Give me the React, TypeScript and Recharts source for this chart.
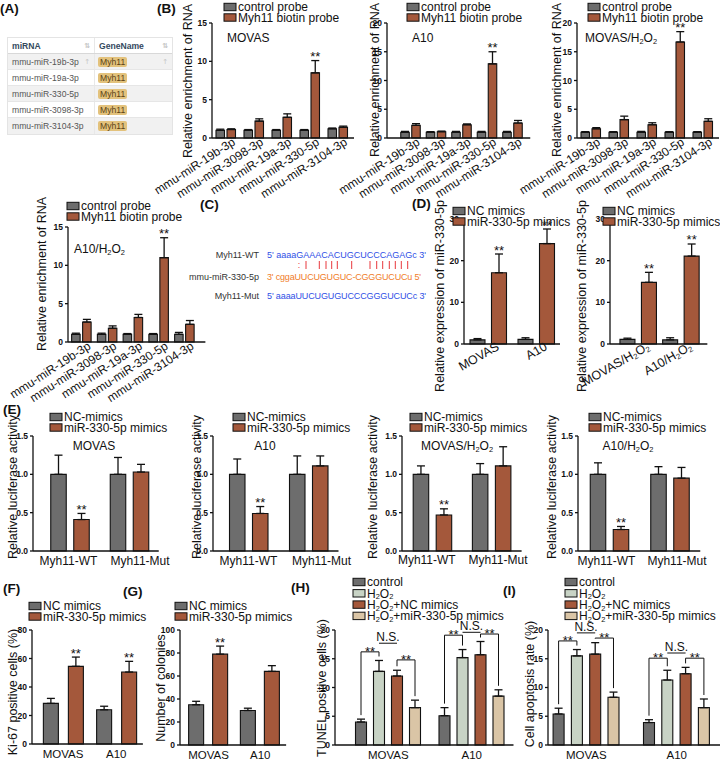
import type { ReactNode } from 'react'
import { Bar, BarChart, ErrorBar, LabelList, XAxis, YAxis } from 'recharts'

const FONT = '"Liberation Sans", Arial, Helvetica, sans-serif'
const GRAY = '#6d6d6d'
const BROWN = '#a4583b'
const SAGE = '#c8d3c5'
const TAN = '#dac5a6'

// (A) prediction table
const tableMirna = ['mmu-miR-19b-3p', 'mmu-miR-19a-3p', 'mmu-miR-330-5p', 'mmu-miR-3098-3p', 'mmu-miR-3104-3p']
const tableGene = ['Myh11', 'Myh11', 'Myh11', 'Myh11', 'Myh11']

// (B) RNA pull-down
const pulldownMirna = ['mmu-miR-19b-3p', 'mmu-miR-3098-3p', 'mmu-miR-19a-3p', 'mmu-miR-330-5p', 'mmu-miR-3104-3p']
const pulldownStars = [false, false, false, true, false]
const movasCtrl = [1.0, 1.0, 1.0, 1.0, 1.2]
const movasCtrlSd = [0.15, 0.1, 0.1, 0.1, 0.1]
const movasProbe = [1.1, 2.2, 2.7, 8.5, 1.4]
const movasProbeSd = [0.1, 0.3, 0.45, 1.6, 0.15]
const a10Ctrl = [1.0, 1.0, 1.0, 1.0, 1.0]
const a10CtrlSd = [0.15, 0.1, 0.15, 0.15, 0.15]
const a10Probe = [2.2, 1.1, 2.3, 12.9, 2.6]
const a10ProbeSd = [0.3, 0.1, 0.15, 2.1, 0.45]
const movasH2o2Ctrl = [1.0, 1.0, 1.0, 1.0, 1.0]
const movasH2o2CtrlSd = [0.1, 0.1, 0.15, 0.1, 0.1]
const movasH2o2Probe = [1.6, 3.2, 2.3, 16.7, 2.9]
const movasH2o2ProbeSd = [0.2, 0.6, 0.35, 1.8, 0.45]
const a10H2o2Ctrl = [1.0, 1.0, 1.0, 1.0, 1.0]
const a10H2o2CtrlSd = [0.15, 0.15, 0.1, 0.1, 0.25]
const a10H2o2Probe = [2.6, 1.8, 3.2, 11.0, 2.3]
const a10H2o2ProbeSd = [0.35, 0.3, 0.4, 2.6, 0.5]

// (C) binding sites
const seqLabels = ['Myh11-WT', 'mmu-miR-330-5p', 'Myh11-Mut']
const seqTexts = ["5' aaaaGAAACACUGCUCCCAGAGc 3'", "3' cggaUUCUGUGUC-CGGGUCUCu 5'", "5' aaaaUUCUGUGUCCCGGGUCUCc 3'"]
const pairMarkX = [306, 319.3, 326, 331.7, 337.3, 351.7, 370, 376.7, 382.7, 389.3, 395.3, 401.3, 407.7]

// (D) mimic transfection
const cellLines = ['MOVAS', 'A10']
const cellLinesH2o2 = ['MOVAS/H2O2', 'A10/H2O2']
const exprNc = [1.0, 1.1]
const exprNcSd = [0.3, 0.4]
const exprMimic = [17.1, 24.1]
const exprMimicSd = [4.5, 3.5]
const exprNcH2o2 = [1.1, 1.0]
const exprNcH2o2Sd = [0.3, 0.5]
const exprMimicH2o2 = [14.8, 21.1]
const exprMimicH2o2Sd = [2.4, 2.9]
const bothStars = [true, true]

// (E) luciferase
const reporters = ['Myh11-WT', 'Myh11-Mut']
const wtStars = [true, false]
const lucMovasNc = [1.0, 1.0]
const lucMovasNcSd = [0.25, 0.22]
const lucMovasMimic = [0.41, 1.03]
const lucMovasMimicSd = [0.08, 0.1]
const lucA10Nc = [1.0, 1.0]
const lucA10NcSd = [0.2, 0.24]
const lucA10Mimic = [0.49, 1.11]
const lucA10MimicSd = [0.09, 0.13]
const lucMovasH2o2Nc = [1.0, 1.0]
const lucMovasH2o2NcSd = [0.11, 0.14]
const lucMovasH2o2Mimic = [0.47, 1.11]
const lucMovasH2o2MimicSd = [0.08, 0.25]
const lucA10H2o2Nc = [1.0, 1.0]
const lucA10H2o2NcSd = [0.15, 0.1]
const lucA10H2o2Mimic = [0.28, 0.95]
const lucA10H2o2MimicSd = [0.04, 0.14]

// (F) Ki-67, (G) colonies
const ki67Nc = [28.5, 24]
const ki67NcSd = [3.5, 2.5]
const ki67Mimic = [54.5, 50.5]
const ki67MimicSd = [6.5, 7.5]
const colonyNc = [35, 30]
const colonyNcSd = [3, 2]
const colonyMimic = [79, 64]
const colonyMimicSd = [7, 5]
const movasOnlyStars = [true, false]

// (H) TUNEL, (I) apoptosis
const tunelControl = [4.0, 5.1]
const tunelControlSd = [0.5, 1.4]
const tunelH2o2 = [12.8, 15.2]
const tunelH2o2Sd = [1.9, 1.4]
const tunelNc = [12.0, 15.7]
const tunelNcSd = [1.0, 2.3]
const tunelMimic = [6.5, 8.5]
const tunelMimicSd = [1.3, 1.1]
const apoControl = [5.4, 3.9]
const apoControlSd = [1.0, 0.5]
const apoH2o2 = [15.5, 11.3]
const apoH2o2Sd = [1.1, 1.7]
const apoNc = [15.8, 12.4]
const apoNcSd = [2.0, 1.1]
const apoMimic = [8.3, 6.5]
const apoMimicSd = [0.9, 1.5]

interface SeriesDef {
  name: string
  color: string
  values: number[]
  sd: number[]
  stars?: boolean[]
}

interface Bracket {
  group: number
  from: number
  to: number
  level: number
  text: '**' | 'N.S.'
}

interface TickStyle {
  angle: number
  dx: number
  dy: number
  size: number
  shift?: number[]
}

interface Spot {
  text: string
  x: number
  y: number
}

interface PanelProps {
  categories: string[]
  series: SeriesDef[]
  axisX: number
  topY: number
  zeroY: number
  yMax: number
  yTicks: number[]
  decimals?: number
  firstCenter: number
  band: number
  padRight?: number
  barSize: number
  barGap: number
  tick: TickStyle
  brackets?: Bracket[]
  legend: { x: number; y: number; row?: number }
  title?: Spot & { anchor?: 'start' | 'middle' }
  yLabel: Spot
}

const TICK_B: TickStyle = { angle: -33, dx: 10, dy: 6, size: 12 }
const TICK_D: TickStyle = { angle: -30, dx: 12, dy: 5, size: 12.5 }
const TICK_LOW: TickStyle = { angle: 0, dx: 0, dy: 14, size: 11.5 }

const YW = 34
const MT = 26
const XH = 80

function chem(text: string, size: number): ReactNode[] {
  const out: ReactNode[] = []
  const shift = size * 0.14
  text.split('H2O2').forEach((part, i) => {
    if (i === 0) {
      out.push(part)
      return
    }
    out.push(
      <tspan key={`h${i}`}>H</tspan>,
      <tspan key={`s${i}`} fontSize={size * 0.62} dy={shift}>2</tspan>,
      <tspan key={`o${i}`} dy={-shift}>O</tspan>,
      <tspan key={`t${i}`} fontSize={size * 0.62} dy={shift}>2</tspan>,
      <tspan key={`r${i}`} dy={-shift}>{part}</tspan>,
    )
  })
  return out
}

function makeXTick(style: TickStyle) {
  return (props: any) => {
    const extra = style.shift ? style.shift[props.index] ?? 0 : 0
    const tx = props.x + style.dx + extra
    const ty = props.y + style.dy
    return (
      <text
        x={tx}
        y={ty}
        transform={style.angle ? `rotate(${style.angle} ${tx} ${ty})` : undefined}
        textAnchor={style.angle ? 'end' : 'middle'}
        fontSize={style.size}
        fontFamily={FONT}
        fill="#111"
      >
        {chem(String(props.payload.value), style.size)}
      </text>
    )
  }
}

function makeYTick(decimals: number) {
  return (props: any) => (
    <text x={props.x} y={props.y} dy={3} textAnchor="end" fontSize={8.5} fontWeight="bold" fontFamily={FONT} fill="#111">
      {Number(props.payload.value).toFixed(decimals)}
    </text>
  )
}

function boxOf(lp: any) {
  const vb = lp.viewBox && typeof lp.viewBox.x === 'number' ? lp.viewBox : lp
  const top = Math.min(vb.y, vb.y + vb.height)
  const h = Math.abs(vb.height)
  return { x: vb.x as number, w: vb.width as number, top, bottom: top + h, h }
}

function BarPanel(p: PanelProps) {
  const plotH = p.zeroY - p.topY
  const padLeft = p.firstCenter - p.axisX - p.band / 2
  const padRight = p.padRight ?? 0
  const plotW = padLeft + p.band * p.categories.length + padRight
  const step = p.barSize + p.barGap
  const data = p.categories.map((name, i) => {
    const row: Record<string, unknown> = { name }
    p.series.forEach((s, k) => {
      row[`v${k}`] = s.values[i]
      row[`e${k}`] = [0, s.sd[i]]
    })
    return row
  })

  const starMark = (s: SeriesDef) => (lp: any) => {
    const i = lp.index as number
    if (!s.stars || !s.stars[i]) return null
    const b = boxOf(lp)
    const k = b.h / s.values[i]
    const errTop = b.bottom - (s.values[i] + s.sd[i]) * k
    return (
      <text x={b.x + b.w / 2} y={errTop + 0.5} textAnchor="middle" fontSize={13} fontFamily={FONT} fill="#111">
        **
      </text>
    )
  }

  const bracketMarks = (lp: any) => {
    const g = lp.index as number
    const list = (p.brackets ?? []).filter((br) => br.group === g)
    if (list.length === 0) return null
    const b = boxOf(lp)
    const k = b.h / p.series[0].values[g]
    const yOf = (v: number) => b.bottom - v * k
    const cx = (j: number) => b.x + b.w / 2 + j * step
    const tip = (j: number) => yOf(p.series[j].values[g] + p.series[j].sd[g]) - 4
    return (
      <g>
        {list.map((br, n) => {
          const ly = yOf(br.level)
          const x1 = cx(br.from)
          const x2 = cx(br.to)
          if (br.text === 'N.S.') {
            return (
              <g key={n}>
                <line x1={x1} x2={x2} y1={ly} y2={ly} stroke="#111" strokeWidth={1} />
                <text x={(x1 + x2) / 2} y={ly - 2} textAnchor="middle" fontSize={12} fontFamily={FONT} fill="#111">
                  N.S.
                </text>
              </g>
            )
          }
          return (
            <g key={n}>
              <polyline
                points={`${x1},${tip(br.from)} ${x1},${ly} ${x2},${ly} ${x2},${tip(br.to)}`}
                fill="none"
                stroke="#111"
                strokeWidth={1}
              />
              <text x={(x1 + x2) / 2} y={ly + 4} textAnchor="middle" fontSize={13} fontFamily={FONT} fill="#111">
                **
              </text>
            </g>
          )
        })}
      </g>
    )
  }

  const row = p.legend.row ?? 10.5
  return (
    <>
      <div style={{ position: 'absolute', left: p.axisX - YW, top: p.topY - MT }}>
        <BarChart
          width={YW + plotW + 6}
          height={MT + plotH + XH}
          data={data}
          margin={{ top: MT, right: 6, bottom: 0, left: 0 }}
          barSize={p.barSize}
          barGap={p.barGap}
        >
          <XAxis
            dataKey="name"
            height={XH}
            padding={{ left: padLeft, right: padRight }}
            tickLine={false}
            tickSize={0}
            tickMargin={0}
            interval={0}
            stroke="#111"
            strokeWidth={1.3}
            tick={makeXTick(p.tick)}
          />
          <YAxis
            width={YW}
            domain={[0, p.yMax]}
            ticks={p.yTicks}
            interval={0}
            tickSize={3}
            tickMargin={2}
            stroke="#111"
            strokeWidth={1.3}
            tick={makeYTick(p.decimals ?? 0)}
          />
          {p.series.map((s, k) => (
            <Bar key={s.name} dataKey={`v${k}`} fill={s.color} stroke="#111" strokeWidth={1.1} isAnimationActive={false}>
              <ErrorBar dataKey={`e${k}`} direction="y" width={4} stroke="#111" strokeWidth={1.3} />
              {s.stars && <LabelList dataKey={`v${k}`} content={starMark(s)} />}
              {k === 0 && p.brackets && <LabelList dataKey="v0" content={bracketMarks} />}
            </Bar>
          ))}
        </BarChart>
      </div>
      <svg style={{ position: 'absolute', left: 0, top: 0, overflow: 'visible', pointerEvents: 'none' }} width={720} height={760}>
        <g fontFamily={FONT} fill="#111">
          {p.series.map((s, i) => (
            <g key={s.name}>
              <rect x={p.legend.x} y={p.legend.y + i * row - 3.7} width={12} height={7.4} fill={s.color} stroke="#111" strokeWidth={1} />
              <text x={p.legend.x + 14} y={p.legend.y + i * row + 4.3} fontSize={12}>
                {chem(s.name, 12)}
              </text>
            </g>
          ))}
          {p.title && (
            <text x={p.title.x} y={p.title.y} fontSize={12} textAnchor={p.title.anchor ?? 'start'}>
              {chem(p.title.text, 12)}
            </text>
          )}
          <text
            transform={`translate(${p.yLabel.x},${p.yLabel.y}) rotate(-90)`}
            textAnchor="middle"
            dominantBaseline="central"
            fontSize={12.5}
          >
            {p.yLabel.text}
          </text>
        </g>
      </svg>
    </>
  )
}

function MirnaTable() {
  const cell = { display: 'flex', alignItems: 'center', height: '100%', boxSizing: 'border-box' as const, position: 'relative' as const }
  const icon = { position: 'absolute' as const, right: 4, color: '#c4c4c4', fontSize: 7, fontFamily: '"DejaVu Sans", sans-serif' }
  return (
    <div
      style={{
        position: 'absolute',
        left: 7,
        top: 37,
        width: 166,
        fontFamily: FONT,
        fontSize: 8.6,
        color: '#555',
        border: '1px solid #e4e4e4',
        boxSizing: 'border-box',
        background: '#fff',
      }}
    >
      <div style={{ display: 'flex', height: 15, fontWeight: 'bold', color: '#34495e', borderBottom: '1px solid #d8d8d8' }}>
        <div style={{ ...cell, width: 87, paddingLeft: 4, borderRight: '1px solid #e8e8e8' }}>
          miRNA<span style={icon}>⇅</span>
        </div>
        <div style={{ ...cell, flex: 1, paddingLeft: 4 }}>
          GeneName<span style={icon}>⇅</span>
        </div>
      </div>
      {tableMirna.map((m, i) => (
        <div
          key={m}
          style={{ display: 'flex', height: 16, background: i % 2 === 0 ? '#f1f1f1' : '#fff', borderBottom: i < 4 ? '1px solid #e6e6e6' : 'none', boxSizing: 'border-box' }}
        >
          <div style={{ ...cell, width: 87, paddingLeft: 4, borderRight: '1px solid #e8e8e8' }}>
            {m}
            {i === 0 && <span style={icon}>↑</span>}
          </div>
          <div style={{ ...cell, flex: 1, paddingLeft: 3 }}>
            <span style={{ background: '#e3c27c', borderRadius: 2, padding: '0 2px', lineHeight: '10px', color: '#5b4316', display: 'inline-block' }}>
              {tableGene[i]}
            </span>
            {i === 0 && <span style={icon}>↑</span>}
          </div>
        </div>
      ))}
    </div>
  )
}

function Annotations() {
  const letters: [string, number, number][] = [
    ['(A)', 0, 12.5],
    ['(B)', 157, 12.5],
    ['(C)', 200, 209],
    ['(D)', 412, 208],
    ['(E)', 3, 414],
    ['(F)', 3, 593],
    ['(G)', 123, 596],
    ['(H)', 291, 592],
    ['(I)', 503, 595],
  ]
  const seqY = [257.5, 279.5, 298.5]
  const seqColor = ['#2f4fe6', '#f07d2a', '#2f4fe6']
  const seqLen = [159, 154, 159]
  return (
    <svg style={{ position: 'absolute', left: 0, top: 0, pointerEvents: 'none' }} width={720} height={760}>
      <g fontFamily={FONT}>
        {letters.map(([t, x, y]) => (
          <text key={t} x={x} y={y} fontSize={13.5} fontWeight="bold" fill="#111">
            {t}
          </text>
        ))}
        {seqLabels.map((l, i) => (
          <g key={l}>
            <text x={259} y={seqY[i]} fontSize={9} textAnchor="end" fill="#333">
              {l}
            </text>
            <text x={267} y={seqY[i]} fontSize={9} fill={seqColor[i]} textLength={seqLen[i]} lengthAdjust="spacing">
              {seqTexts[i]}
            </text>
          </g>
        ))}
        <text x={299} y={268} fontSize={9} textAnchor="middle" fill="#e8383d">
          :
        </text>
        {pairMarkX.map((x) => (
          <line key={x} x1={x} x2={x} y1={261} y2={269} stroke="#e8383d" strokeWidth={1} />
        ))}
      </g>
    </svg>
  )
}

export default function App() {
  const probeSeries = (c: number[], cs: number[], v: number[], vs: number[]): SeriesDef[] => [
    { name: 'control probe', color: GRAY, values: c, sd: cs },
    { name: 'Myh11 biotin probe', color: BROWN, values: v, sd: vs, stars: pulldownStars },
  ]
  const mimicSeries = (nc: string, c: number[], cs: number[], v: number[], vs: number[], stars: boolean[]): SeriesDef[] => [
    { name: nc, color: GRAY, values: c, sd: cs },
    { name: 'miR-330-5p mimics', color: BROWN, values: v, sd: vs, stars },
  ]
  const fourSeries = (a: number[], as: number[], b: number[], bs: number[], c: number[], cs: number[], d: number[], ds: number[]): SeriesDef[] => [
    { name: 'control', color: GRAY, values: a, sd: as },
    { name: 'H2O2', color: SAGE, values: b, sd: bs },
    { name: 'H2O2+NC mimics', color: BROWN, values: c, sd: cs },
    { name: 'H2O2+miR-330-5p mimics', color: TAN, values: d, sd: ds },
  ]
  const lucTicks = [0, 0.5, 1, 1.5]
  const eTick = (a: number, b: number): TickStyle => ({ angle: 0, dx: 0, dy: 13.5, size: 12, shift: [a, b] })

  return (
    <div style={{ position: 'absolute', left: 0, top: 0, width: 720, height: 760, background: '#fff', overflow: 'hidden', fontFamily: FONT }}>
      <style>{'.recharts-surface{overflow:visible}'}</style>
      <MirnaTable />

      <BarPanel
        categories={pulldownMirna}
        series={probeSeries(movasCtrl, movasCtrlSd, movasProbe, movasProbeSd)}
        axisX={212} topY={23} zeroY={138} yMax={15} yTicks={[0, 5, 10, 15]}
        firstCenter={226} band={28} padRight={2} barSize={8.5} barGap={2.5} tick={TICK_B}
        legend={{ x: 224, y: 7 }} title={{ text: 'MOVAS', x: 227, y: 42 }}
        yLabel={{ text: 'Relative enrichment of RNA', x: 188, y: 81 }}
      />
      <BarPanel
        categories={pulldownMirna}
        series={probeSeries(a10Ctrl, a10CtrlSd, a10Probe, a10ProbeSd)}
        axisX={387} topY={23} zeroY={138} yMax={20} yTicks={[0, 5, 10, 15, 20]}
        firstCenter={410.5} band={25.5} padRight={5} barSize={8.5} barGap={2.5} tick={TICK_B}
        legend={{ x: 407, y: 7 }} title={{ text: 'A10', x: 412, y: 42 }}
        yLabel={{ text: 'Relative enrichment of RNA', x: 375, y: 80 }}
      />
      <BarPanel
        categories={pulldownMirna}
        series={probeSeries(movasH2o2Ctrl, movasH2o2CtrlSd, movasH2o2Probe, movasH2o2ProbeSd)}
        axisX={577} topY={23} zeroY={138} yMax={20} yTicks={[0, 5, 10, 15, 20]}
        firstCenter={591} band={28} padRight={2} barSize={8.5} barGap={2.5} tick={TICK_B}
        legend={{ x: 588, y: 7 }} title={{ text: 'MOVAS/H2O2', x: 585, y: 42 }}
        yLabel={{ text: 'Relative enrichment of RNA', x: 557, y: 80 }}
      />
      <BarPanel
        categories={pulldownMirna}
        series={probeSeries(a10H2o2Ctrl, a10H2o2CtrlSd, a10H2o2Probe, a10H2o2ProbeSd)}
        axisX={68} topY={227} zeroY={342} yMax={15} yTicks={[0, 5, 10, 15]}
        firstCenter={81.5} band={25.75} padRight={8} barSize={8.5} barGap={2.5} tick={TICK_B}
        legend={{ x: 67, y: 206 }} title={{ text: 'A10/H2O2', x: 74, y: 253 }}
        yLabel={{ text: 'Relative enrichment of RNA', x: 42, y: 274 }}
      />

      <BarPanel
        categories={cellLines}
        series={mimicSeries('NC mimics', exprNc, exprNcSd, exprMimic, exprMimicSd, bothStars)}
        axisX={464} topY={219} zeroY={344} yMax={30} yTicks={[0, 10, 20, 30]}
        firstCenter={488} band={48} barSize={15} barGap={6.5} tick={TICK_D}
        legend={{ x: 453, y: 211 }}
        yLabel={{ text: 'Relative expression of miR-330-5p', x: 440, y: 296 }}
      />
      <BarPanel
        categories={cellLinesH2o2}
        series={mimicSeries('NC mimics', exprNcH2o2, exprNcH2o2Sd, exprMimicH2o2, exprMimicH2o2Sd, bothStars)}
        axisX={610} topY={219} zeroY={344} yMax={30} yTicks={[0, 10, 20, 30]}
        firstCenter={638.3} band={42.7} padRight={5} barSize={15} barGap={6.5} tick={TICK_D}
        legend={{ x: 603, y: 211 }}
        yLabel={{ text: 'Relative expression of miR-330-5p', x: 582, y: 296 }}
      />

      <BarPanel
        categories={reporters}
        series={mimicSeries('NC-mimics', lucMovasNc, lucMovasNcSd, lucMovasMimic, lucMovasMimicSd, wtStars)}
        axisX={33} topY={436} zeroY={551} yMax={1.5} yTicks={lucTicks} decimals={1}
        firstCenter={69.5} band={59.5} barSize={15.5} barGap={7.5} tick={eTick(-1, 11)}
        legend={{ x: 50, y: 417 }} title={{ text: 'MOVAS', x: 94, y: 450, anchor: 'middle' }}
        yLabel={{ text: 'Relative luciferase activity', x: 13, y: 487 }}
      />
      <BarPanel
        categories={reporters}
        series={mimicSeries('NC-mimics', lucA10Nc, lucA10NcSd, lucA10Mimic, lucA10MimicSd, wtStars)}
        axisX={213} topY={436} zeroY={551} yMax={1.5} yTicks={lucTicks} decimals={1}
        firstCenter={248.5} band={60} barSize={15.5} barGap={7.5} tick={eTick(0, 13)}
        legend={{ x: 233, y: 417 }} title={{ text: 'A10', x: 265, y: 450, anchor: 'middle' }}
        yLabel={{ text: 'Relative luciferase activity', x: 197, y: 487 }}
      />
      <BarPanel
        categories={reporters}
        series={mimicSeries('NC-mimics', lucMovasH2o2Nc, lucMovasH2o2NcSd, lucMovasH2o2Mimic, lucMovasH2o2MimicSd, wtStars)}
        axisX={402} topY={436} zeroY={551} yMax={1.5} yTicks={lucTicks} decimals={1}
        firstCenter={432.8} band={59.2} barSize={15.5} barGap={7.5} tick={eTick(-6, 6)}
        legend={{ x: 410, y: 417 }} title={{ text: 'MOVAS/H2O2', x: 457, y: 450, anchor: 'middle' }}
        yLabel={{ text: 'Relative luciferase activity', x: 373, y: 487 }}
      />
      <BarPanel
        categories={reporters}
        series={mimicSeries('NC-mimics', lucA10H2o2Nc, lucA10H2o2NcSd, lucA10H2o2Mimic, lucA10H2o2MimicSd, wtStars)}
        axisX={578} topY={436} zeroY={551} yMax={1.5} yTicks={lucTicks} decimals={1}
        firstCenter={609.5} band={60.5} barSize={15.5} barGap={7.5} tick={eTick(-3, 7)}
        legend={{ x: 589, y: 417 }} title={{ text: 'A10/H2O2', x: 628, y: 450, anchor: 'middle' }}
        yLabel={{ text: 'Relative luciferase activity', x: 552, y: 487 }}
      />

      <BarPanel
        categories={cellLines}
        series={mimicSeries('NC mimics', ki67Nc, ki67NcSd, ki67Mimic, ki67MimicSd, bothStars)}
        axisX={32} topY={630} zeroY={744} yMax={80} yTicks={[0, 20, 40, 60, 80]}
        firstCenter={63} band={53.25} barSize={15} barGap={10} tick={TICK_LOW}
        legend={{ x: 29, y: 606 }}
        yLabel={{ text: 'Ki-67 positive cells (%)', x: 13, y: 692 }}
      />
      <BarPanel
        categories={cellLines}
        series={mimicSeries('NC mimics', colonyNc, colonyNcSd, colonyMimic, colonyMimicSd, movasOnlyStars)}
        axisX={180} topY={630} zeroY={745} yMax={100} yTicks={[0, 20, 40, 60, 80, 100]}
        firstCenter={208.5} band={51.75} barSize={15} barGap={9} tick={TICK_LOW}
        legend={{ x: 175, y: 606 }}
        yLabel={{ text: 'Number of colonies', x: 161, y: 688 }}
      />
      <BarPanel
        categories={cellLines}
        series={fourSeries(tunelControl, tunelControlSd, tunelH2o2, tunelH2o2Sd, tunelNc, tunelNcSd, tunelMimic, tunelMimicSd)}
        axisX={335} topY={630} zeroY={745} yMax={20} yTicks={[0, 5, 10, 15, 20]}
        firstCenter={388.25} band={83.5} barSize={11} barGap={7} tick={TICK_LOW}
        legend={{ x: 353, y: 582, row: 11.3 }}
        yLabel={{ text: 'TUNEL positive cells (%)', x: 322, y: 688 }}
        brackets={[
          { group: 0, from: 0, to: 1, level: 16.2, text: '**' },
          { group: 0, from: 1, to: 2, level: 17.7, text: 'N.S.' },
          { group: 0, from: 2, to: 3, level: 14.8, text: '**' },
          { group: 1, from: 0, to: 1, level: 19.1, text: '**' },
          { group: 1, from: 1, to: 2, level: 19.6, text: 'N.S.' },
          { group: 1, from: 2, to: 3, level: 19.3, text: '**' },
        ]}
      />
      <BarPanel
        categories={cellLines}
        series={fourSeries(apoControl, apoControlSd, apoH2o2, apoH2o2Sd, apoNc, apoNcSd, apoMimic, apoMimicSd)}
        axisX={548} topY={630} zeroY={745} yMax={20} yTicks={[0, 5, 10, 15, 20]}
        firstCenter={586.3} band={90.4} barSize={11} barGap={7.3} tick={TICK_LOW}
        legend={{ x: 565, y: 582, row: 11.3 }}
        yLabel={{ text: 'Cell apoptosis rate (%)', x: 530, y: 684 }}
        brackets={[
          { group: 0, from: 0, to: 1, level: 18.1, text: '**' },
          { group: 0, from: 1, to: 2, level: 19.5, text: 'N.S.' },
          { group: 0, from: 2, to: 3, level: 18.6, text: '**' },
          { group: 1, from: 0, to: 1, level: 15.1, text: '**' },
          { group: 1, from: 1, to: 2, level: 16.0, text: 'N.S.' },
          { group: 1, from: 2, to: 3, level: 15.1, text: '**' },
        ]}
      />

      <Annotations />
    </div>
  )
}
